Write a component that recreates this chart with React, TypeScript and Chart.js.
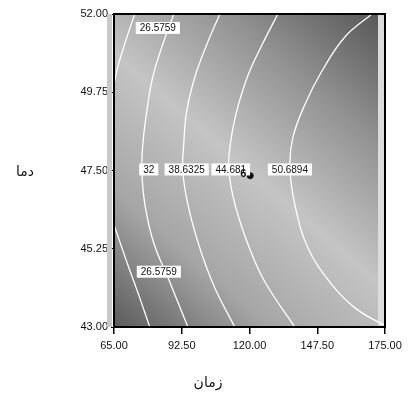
import React, { useEffect, useRef } from "react";
import { Chart, registerables } from "chart.js";
Chart.register(...registerables);

// ---- data ----
const xTickValues = [65, 92.5, 120, 147.5, 175];
const yTickValues = [43, 45.25, 47.5, 49.75, 52];
const xAxisTitle = "زمان";
const yAxisTitle = "دما";

// contour 26.5759 (two separate pieces)
const contourA_top = [
  { x: 73.4, y: 52 }, { x: 69.3, y: 51.13 }, { x: 66.5, y: 50.47 }, { x: 65, y: 49.98 },
];
const contourA_bottom = [
  { x: 65, y: 45.94 }, { x: 70.2, y: 44.87 }, { x: 74.6, y: 44.01 }, { x: 79.5, y: 43 },
];
// contour 32
const contourB = [
  { x: 89.3, y: 52 }, { x: 84.8, y: 51.13 }, { x: 80.7, y: 50.18 }, { x: 78.3, y: 49.2 },
  { x: 76.7, y: 48.25 }, { x: 76.3, y: 47.5 }, { x: 77.6, y: 46.5 }, { x: 81.2, y: 45.4 },
  { x: 87.6, y: 44.3 }, { x: 95, y: 43 },
];
// contour 38.6325
const contourC = [
  { x: 108, y: 52 }, { x: 102.7, y: 51.13 }, { x: 97.8, y: 50.18 }, { x: 94.5, y: 49.2 },
  { x: 93.3, y: 48.25 }, { x: 92.9, y: 47.5 }, { x: 95, y: 46.52 }, { x: 99.8, y: 45.28 },
  { x: 105.9, y: 44.13 }, { x: 114, y: 43 },
];
// contour 44.681
const contourD = [
  { x: 131.5, y: 52 }, { x: 125.2, y: 51.13 }, { x: 119.2, y: 50.2 }, { x: 114.5, y: 49.12 },
  { x: 112.2, y: 48.25 }, { x: 111.6, y: 47.5 }, { x: 114.2, y: 46.5 }, { x: 119.8, y: 45.3 },
  { x: 126.2, y: 44.3 }, { x: 138.4, y: 43 },
];
// contour 50.6894
const contourE = [
  { x: 169.7, y: 52 }, { x: 158.7, y: 51.34 }, { x: 149.4, y: 50.36 }, { x: 142.5, y: 49.4 },
  { x: 137.6, y: 48.45 }, { x: 136.4, y: 47.6 }, { x: 138.4, y: 46.52 }, { x: 143.7, y: 45.28 },
  { x: 153.5, y: 44.21 }, { x: 162.8, y: 43.55 }, { x: 172.2, y: 43.14 }, { x: 175, y: 43.05 },
];

const contourLabelText = ["26.5759", "32", "38.6325", "44.681", "50.6894", "26.5759"];
const contourLabelX = [82.8, 79.1, 94.5, 112.4, 136.4, 83.2];
const contourLabelY = [51.6, 47.53, 47.53, 47.53, 47.53, 44.59];

const centerPoint = [{ x: 120.3, y: 47.35 }];
const centerPointLabel = "6";

const tickFont = { family: "'Liberation Sans', Arial, sans-serif", size: 11 };

const backgroundPlugin = {
  id: "bgGradient",
  beforeDatasetsDraw(chart: any) {
    const { ctx, chartArea: a } = chart;
    ctx.save();
    const g = ctx.createLinearGradient(a.right, a.top, a.left, a.bottom);
    g.addColorStop(0, "#555555");
    g.addColorStop(0.25, "#929292");
    g.addColorStop(0.5, "#c4c4c4");
    g.addColorStop(0.75, "#a6a6a6");
    g.addColorStop(1, "#5c5c5c");
    ctx.fillStyle = g;
    ctx.fillRect(a.left, a.top, a.width, a.height);
    ctx.fillStyle = "#dcdcdc";
    ctx.fillRect(a.right - 7, a.top, 7, a.height);
    ctx.fillStyle = "#c9c9c9";
    ctx.fillRect(a.left - 7, a.top, 5, a.height);
    ctx.restore();
  },
  afterDatasetsDraw(chart: any) {
    const { ctx, chartArea: a, scales } = chart;
    ctx.save();
    ctx.font = "10px 'Liberation Sans', Arial, sans-serif";
    ctx.textAlign = "center";
    ctx.textBaseline = "middle";
    contourLabelText.forEach((t, i) => {
      const px = scales.x.getPixelForValue(contourLabelX[i]);
      const py = scales.y.getPixelForValue(contourLabelY[i]);
      const w = ctx.measureText(t).width + 8;
      ctx.fillStyle = "#ffffff";
      ctx.fillRect(px - w / 2, py - 6, w, 12);
      ctx.fillStyle = "#111111";
      ctx.fillText(t, px, py + 0.5);
    });
    const cx = scales.x.getPixelForValue(centerPoint[0].x);
    const cy = scales.y.getPixelForValue(centerPoint[0].y);
    ctx.font = "bold 11px 'Liberation Sans', Arial, sans-serif";
    ctx.fillStyle = "#111";
    ctx.fillText(centerPointLabel, cx - 7, cy - 2);
    ctx.strokeStyle = "#000";
    ctx.lineWidth = 2;
    ctx.strokeRect(a.left, a.top, a.width, a.height);
    ctx.restore();
  },
  afterDraw(chart: any) {
    const { ctx, chartArea: a } = chart;
    ctx.save();
    ctx.fillStyle = "#111";
    ctx.font = "14px 'DejaVu Sans', sans-serif";
    ctx.textAlign = "center";
    ctx.textBaseline = "middle";
    ctx.fillText(yAxisTitle, 25, (a.top + a.bottom) / 2 + 2);
    ctx.fillText(xAxisTitle, 208, 383);
    ctx.restore();
  },
};

const lineDs = (data: any[]) => ({
  type: "line" as const,
  data,
  borderColor: "#ffffff",
  borderWidth: 1.3,
  pointRadius: 0,
  tension: 0.4,
  fill: false,
});

export default function App() {
  const ref = useRef<HTMLCanvasElement>(null);
  useEffect(() => {
    if (!ref.current) return;
    const chart = new Chart(ref.current, {
      type: "line",
      data: {
        datasets: [
          lineDs(contourA_top),
          lineDs(contourA_bottom),
          lineDs(contourB),
          lineDs(contourC),
          lineDs(contourD),
          lineDs(contourE),
          {
            type: "scatter",
            data: centerPoint,
            pointRadius: 3,
            backgroundColor: "#111",
            borderColor: "#111",
          } as any,
        ],
      },
      options: {
        animation: false,
        responsive: false,
        layout: { padding: { top: 14, right: 26, bottom: 43, left: 0 } },
        plugins: { legend: { display: false }, tooltip: { enabled: false } },
        scales: {
          x: {
            type: "linear",
            min: 65,
            max: 175,
            afterBuildTicks: (s: any) => {
              s.ticks = xTickValues.map((v) => ({ value: v }));
            },
            afterFit: (s: any) => {
              s.height = 40;
            },
            ticks: {
              callback: (v: any) => Number(v).toFixed(2),
              font: tickFont,
              color: "#111",
              padding: 5,
              maxRotation: 0,
            },
            grid: { drawOnChartArea: false, drawTicks: true, tickLength: 7, color: "#000", lineWidth: 1.5 },
            border: { display: false },
          },
          y: {
            type: "linear",
            min: 43,
            max: 52,
            afterBuildTicks: (s: any) => {
              s.ticks = yTickValues.map((v) => ({ value: v }));
            },
            afterFit: (s: any) => {
              s.width = 114;
            },
            ticks: {
              callback: (v: any) => Number(v).toFixed(2),
              font: tickFont,
              color: "#111",
              padding: 3,
            },
            grid: { drawOnChartArea: false, drawTicks: true, tickLength: 3, color: "#000", lineWidth: 1 },
            border: { display: false },
          },
        },
      },
      plugins: [backgroundPlugin],
    });
    return () => chart.destroy();
  }, []);
  return (
    <div style={{ position: "absolute", left: 0, top: 0, width: 411, height: 410, background: "#fff" }}>
      <canvas ref={ref} width={411} height={410} style={{ display: "block", width: 411, height: 410 }} />
    </div>
  );
}
